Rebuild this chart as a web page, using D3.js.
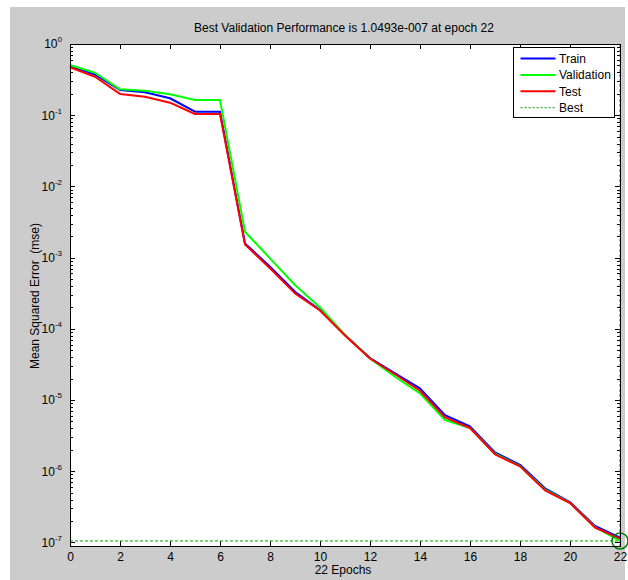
<!DOCTYPE html>
<meta charset="utf-8">
<style type="text/css">

body {
  margin: 0;
  background: #fff;
}

svg {
  font-family: "Liberation Sans", Arial, Helvetica, sans-serif;
}

.axis text {
  font-size: 12px;
  fill: #000;
}

.axis line {
  stroke: #000;
  shape-rendering: crispEdges;
}

.series {
  fill: none;
  stroke-width: 2px;
  stroke-linejoin: round;
}

</style>
<body>

<div id="chart"></div>

<script src="https://d3js.org/d3.v7.min.js"></script>
<script>
var width = 628,
    height = 580;

var epochs = d3.range(0, 23);

// values (mse per epoch)
var trainValues = [0.491, 0.371, 0.226, 0.21, 0.173, 0.112, 0.112,
  1.58e-3, 7.45e-4, 3.32e-4, 1.84e-4, 8.18e-5, 3.89e-5, 2.37e-5, 1.46e-5,
  6.15e-6, 4.25e-6, 1.84e-6, 1.23e-6, 5.75e-7, 3.69e-7, 1.70e-7, 1.17e-7];

var validationValues = [0.507, 0.395, 0.231, 0.221, 0.197, 0.163, 0.163,
  2.31e-3, 9.77e-4, 4.12e-4, 2.0e-4, 8.18e-5, 3.83e-5, 2.12e-5, 1.24e-5,
  5.24e-6, 4.05e-6, 1.77e-6, 1.18e-6, 5.53e-7, 3.61e-7, 1.64e-7, 1.0493e-7];

var testValues = [0.471, 0.347, 0.199, 0.182, 0.15, 0.104, 0.104,
  1.53e-3, 7.08e-4, 3.15e-4, 1.81e-4, 8.05e-5, 3.83e-5, 2.30e-5, 1.35e-5,
  5.71e-6, 4.05e-6, 1.73e-6, 1.17e-6, 5.39e-7, 3.58e-7, 1.62e-7, 1.13e-7];

var bestEpoch = 22,
    bestValue = 1.0493e-7;

var xTicks = [0, 2, 4, 6, 8, 10, 12, 14, 16, 18, 20, 22];
var yExponents = [0, -1, -2, -3, -4, -5, -6, -7];

var seriesNames = ['Train', 'Validation', 'Test'];
var seriesColors = ['#0000ff', '#00ff00', '#ff0000'];

var titleText = 'Best Validation Performance is 1.0493e-007 at epoch 22';
var xLabelText = '22 Epochs';
var yLabelText = 'Mean Squared Error  (mse)';

var plot = {left: 70, right: 620, top: 44, bottom: 546};

var svg = d3.select('#chart').append('svg')
    .attr('width', width)
    .attr('height', height);

// grey figure background
svg.append('rect')
    .attr('x', 10)
    .attr('y', 7)
    .attr('width', 615)
    .attr('height', height - 7)
    .attr('fill', '#cccccc');

var x = d3.scaleLinear()
    .domain([0, 22])
    .range([plot.left, plot.right]);

var y = d3.scaleLog()
    .domain([Math.pow(10, -7.05), 1])
    .range([plot.bottom, plot.top]);

svg.append('rect')
    .attr('x', plot.left)
    .attr('y', plot.top)
    .attr('width', plot.right - plot.left)
    .attr('height', plot.bottom - plot.top)
    .attr('fill', '#fff');

// minor ticks on the log axis: 2..9 of every decade
var minorTicks = [];
yExponents.forEach(function(e) {
  for (var m = 2; m <= 9; m++) {
    var v = m * Math.pow(10, e - 1);
    if (v >= y.domain()[0]) minorTicks.push(v);
  }
});
var majorTicks = yExponents.map(function(e) { return Math.pow(10, e); });

var xAxis = d3.axisBottom(x).tickValues(xTicks).tickSize(-5).tickSizeOuter(0).tickPadding(6);
var xTop = d3.axisTop(x).tickValues(xTicks).tickSize(-5).tickSizeOuter(0).tickFormat('');

var yAxis = d3.axisLeft(y).tickValues(majorTicks).tickSize(-5).tickSizeOuter(0).tickPadding(8).tickFormat('');
var yMinor = d3.axisLeft(y).tickValues(minorTicks).tickSize(-3).tickSizeOuter(0).tickFormat('');
var yRight = d3.axisRight(y).tickValues(majorTicks).tickSize(-5).tickSizeOuter(0).tickFormat('');
var yRightMinor = d3.axisRight(y).tickValues(minorTicks).tickSize(-3).tickSizeOuter(0).tickFormat('');

svg.append('g').attr('class', 'axis')
    .attr('transform', 'translate(0,' + plot.bottom + ')')
    .call(xAxis);
svg.append('g').attr('class', 'axis')
    .attr('transform', 'translate(0,' + plot.top + ')')
    .call(xTop);

var yg = svg.append('g').attr('class', 'axis')
    .attr('transform', 'translate(' + plot.left + ',0)')
    .call(yAxis);
svg.append('g').attr('class', 'axis')
    .attr('transform', 'translate(' + plot.left + ',0)')
    .call(yMinor);
svg.append('g').attr('class', 'axis')
    .attr('transform', 'translate(' + plot.right + ',0)')
    .call(yRight);
svg.append('g').attr('class', 'axis')
    .attr('transform', 'translate(' + plot.right + ',0)')
    .call(yRightMinor);

svg.selectAll('.axis .domain').remove();

// 10^n labels with superscripts
yg.selectAll('.tick text').each(function(d) {
  var t = d3.select(this);
  t.append('tspan').text('10');
  t.append('tspan')
      .attr('dy', -6)
      .attr('font-size', '8px')
      .text(Math.round(Math.log10(d)));
});

// best lines
svg.append('line')
    .attr('x1', plot.left)
    .attr('x2', plot.right)
    .attr('y1', y(bestValue))
    .attr('y2', y(bestValue))
    .attr('stroke', '#00a000')
    .attr('stroke-dasharray', '3,2');

svg.append('line')
    .attr('x1', x(bestEpoch))
    .attr('x2', x(bestEpoch))
    .attr('y1', plot.top)
    .attr('y2', plot.bottom)
    .attr('stroke', '#00a000')
    .attr('stroke-dasharray', '3,2');

var line = d3.line()
    .x(function(d, i) { return x(epochs[i]); })
    .y(function(d) { return y(d); });

[trainValues, validationValues, testValues].forEach(function(vals, i) {
  svg.append('path')
      .attr('class', 'series')
      .attr('d', line(vals))
      .attr('stroke', seriesColors[i]);
});

svg.append('circle')
    .attr('cx', x(bestEpoch))
    .attr('cy', y(bestValue))
    .attr('r', 8)
    .attr('fill', 'none')
    .attr('stroke', '#008000')
    .attr('stroke-width', 1.5);

// axes box
svg.append('rect')
    .attr('x', plot.left)
    .attr('y', plot.top)
    .attr('width', plot.right - plot.left)
    .attr('height', plot.bottom - plot.top)
    .attr('fill', 'none')
    .attr('stroke', '#000')
    .attr('shape-rendering', 'crispEdges');

// legend
var legend = svg.append('g').attr('transform', 'translate(513.5,47.5)');
legend.append('rect')
    .attr('width', 101)
    .attr('height', 70)
    .attr('fill', '#fff')
    .attr('stroke', '#000')
    .attr('shape-rendering', 'crispEdges');

var legendItems = seriesNames.concat(['Best']);
legendItems.forEach(function(name, i) {
  var cy = 11 + i * 16.4;
  var isBest = name === 'Best';
  legend.append('line')
      .attr('x1', 7)
      .attr('x2', 42)
      .attr('y1', cy)
      .attr('y2', cy)
      .attr('stroke', isBest ? '#00a000' : seriesColors[i])
      .attr('stroke-width', isBest ? 1 : 2)
      .attr('stroke-dasharray', isBest ? '2,2' : null);
  legend.append('text')
      .attr('x', 45.5)
      .attr('y', cy + 4.3)
      .attr('font-size', '12px')
      .text(name);
});

// titles
svg.append('text')
    .attr('x', 344)
    .attr('y', 32)
    .attr('text-anchor', 'middle')
    .attr('font-size', '12px')
    .text(titleText);

svg.append('text')
    .attr('x', 343)
    .attr('y', 574)
    .attr('text-anchor', 'middle')
    .attr('font-size', '12px')
    .text(xLabelText);

svg.append('text')
    .attr('transform', 'translate(39,296) rotate(-90)')
    .attr('text-anchor', 'middle')
    .attr('font-size', '12px')
    .style('white-space', 'pre')
    .text(yLabelText);
</script>
